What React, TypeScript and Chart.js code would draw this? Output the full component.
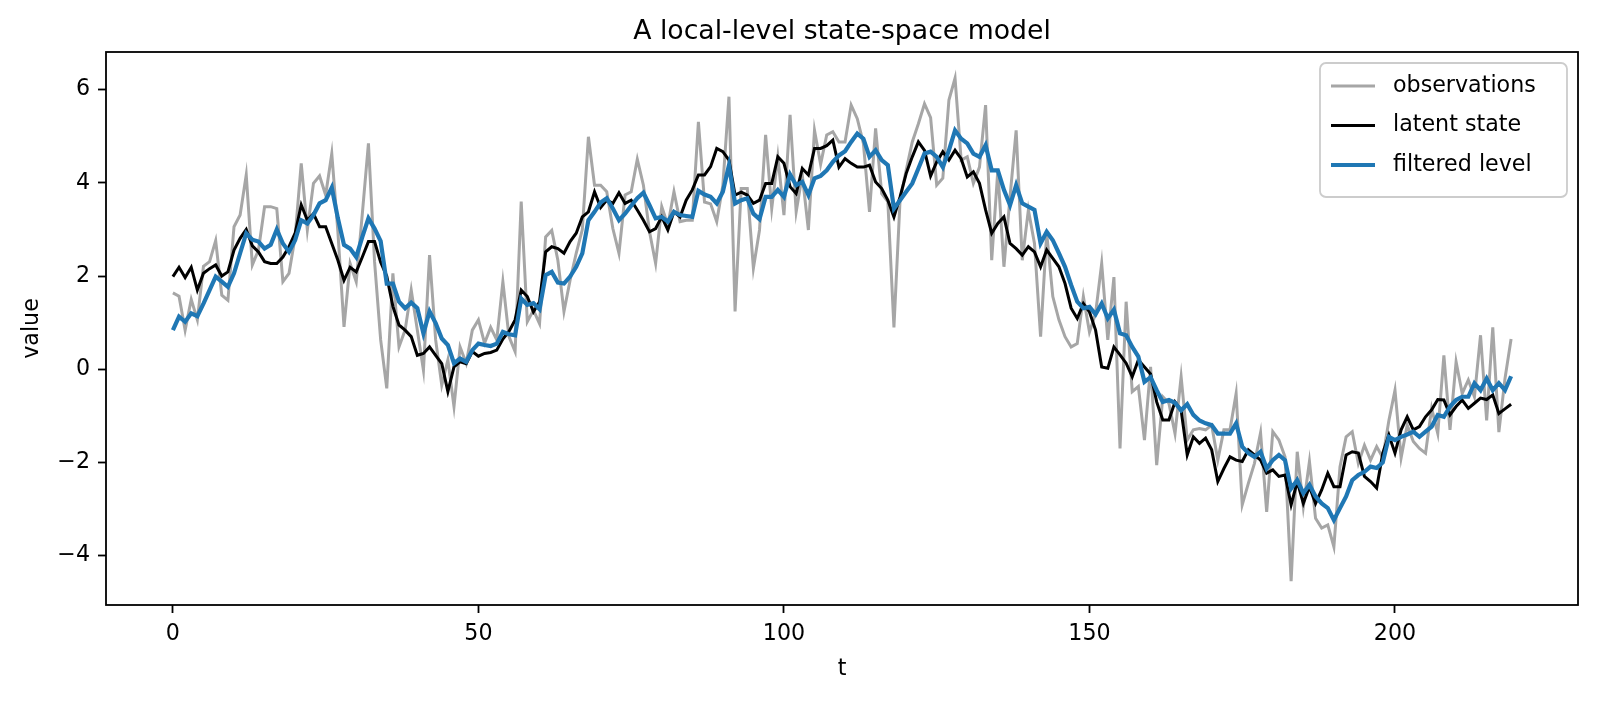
import React, { useEffect, useRef } from 'react';
import Chart from 'chart.js/auto';

const TITLE = 'A local-level state-space model';
const X_LABEL = 't';
const Y_LABEL = 'value';
const SERIES_NAMES = ['observations', 'latent state', 'filtered level'];
const X_TICKS = [0, 50, 100, 150, 200];
const Y_TICKS = [-4, -2, 0, 2, 4, 6];

// noisy observations (grey)
const OBSERVATIONS = [
  1.64, 1.57, 0.84, 1.5, 1.06, 2.21, 2.31, 2.76, 1.59, 1.48,
  3.06, 3.31, 4.17, 2.24, 2.56, 3.49, 3.49, 3.45, 1.88, 2.06,
  2.84, 4.42, 2.99, 3.99, 4.15, 3.74, 4.63, 2.95, 0.91, 2.27,
  1.88, 3.34, 4.85, 2.31, 0.63, -0.41, 2.06, 0.48, 0.84, 1.7,
  0.84, -0.02, 2.45, 0.63, -0.34, 0.2, -0.8, 0.48, 0.13, 0.84,
  1.06, 0.56, 0.9, 0.63, 1.88, 0.7, 0.38, 3.6, 1.02, 1.27,
  0.98, 2.84, 2.98, 2.34, 1.24, 1.91, 2.49, 3.0, 4.99, 3.95,
  3.95, 3.81, 3.02, 2.49, 3.74, 3.81, 4.51, 3.95, 2.95, 2.27,
  3.49, 3.09, 3.81, 3.17, 3.2, 3.2, 5.31, 3.59, 3.55, 3.17,
  3.95, 5.85, 1.24, 3.88, 3.88, 2.17, 2.99, 5.03, 3.45, 4.56,
  3.31, 5.46, 3.38, 4.17, 2.99, 5.13, 4.4, 5.03, 5.1, 4.88,
  4.88, 5.67, 5.38, 4.85, 3.38, 5.17, 3.77, 3.6, 0.9, 3.63,
  4.27, 4.88, 5.27, 5.7, 5.4, 3.95, 4.1, 5.78, 6.25, 4.49,
  4.56, 3.99, 4.34, 5.67, 2.34, 4.27, 2.2, 3.7, 5.13, 2.34,
  3.42, 2.7, 0.7, 2.92, 1.56, 1.06, 0.7, 0.48, 0.55, 1.56,
  0.8, 1.2, 2.27, 0.63, 1.98, -1.7, 1.45, -0.48, -0.37, -1.52,
  0.05, -2.06, -0.59, -0.73, -1.38, -0.16, -1.52, -1.3, -1.27, -1.3,
  -1.2, -1.95, -1.3, -1.3, -0.52, -2.91, -2.45, -2.02, -1.36, -3.06,
  -1.34, -1.52, -1.88, -4.55, -1.77, -2.95, -1.98, -3.2, -3.41, -3.34,
  -3.81, -2.09, -1.45, -1.34, -2.02, -1.63, -1.95, -1.66, -1.9, -1.1,
  -0.45, -1.9, -1.2, -1.55, -1.7, -1.8, -0.84, -1.38, 0.3, -1.3,
  0.16, -0.52, -0.23, -0.59, 0.73, -1.1, 0.9, -1.35, -0.2, 0.65,
];

// true latent state (black)
const LATENT = [
  1.99, 2.19, 1.97, 2.19, 1.7, 2.06, 2.16, 2.24, 2.0, 2.09,
  2.56, 2.81, 3.0, 2.65, 2.52, 2.31, 2.27, 2.27, 2.41, 2.63,
  2.92, 3.53, 3.2, 3.34, 3.06, 3.06, 2.7, 2.34, 1.91, 2.19,
  2.09, 2.41, 2.74, 2.74, 2.3, 2.0, 1.35, 0.95, 0.84, 0.7,
  0.3, 0.34, 0.48, 0.3, 0.12, -0.48, 0.05, 0.16, 0.12, 0.38,
  0.28, 0.34, 0.36, 0.41, 0.65, 0.81, 1.06, 1.7, 1.56, 1.23,
  1.45, 2.52, 2.63, 2.59, 2.49, 2.74, 2.92, 3.27, 3.38, 3.81,
  3.47, 3.63, 3.56, 3.79, 3.56, 3.63, 3.42, 3.2, 2.95, 3.02,
  3.27, 2.99, 3.38, 3.27, 3.63, 3.85, 4.17, 4.17, 4.35, 4.74,
  4.67, 4.49, 3.74, 3.8, 3.74, 3.56, 3.63, 3.99, 3.99, 4.56,
  4.42, 3.92, 3.77, 4.31, 4.17, 4.74, 4.74, 4.8, 4.92, 4.34,
  4.52, 4.42, 4.34, 4.34, 4.38, 4.02, 3.88, 3.63, 3.27, 3.7,
  4.2, 4.56, 4.88, 4.7, 4.15, 4.45, 4.67, 4.49, 4.7, 4.52,
  4.13, 4.24, 3.99, 3.42, 2.92, 3.13, 3.27, 2.7, 2.59, 2.45,
  2.63, 2.52, 2.2, 2.56, 2.38, 2.2, 1.84, 1.31, 1.09, 1.41,
  1.23, 0.84, 0.05, 0.02, 0.48, 0.31, 0.13, -0.16, 0.2, 0.05,
  -0.1, -0.7, -1.09, -1.09, -0.7, -0.88, -1.84, -1.45, -1.59, -1.48,
  -1.73, -2.41, -2.13, -1.88, -1.95, -1.98, -1.73, -1.84, -1.95, -2.23,
  -2.16, -2.3, -2.27, -2.91, -2.41, -2.88, -2.52, -2.88, -2.59, -2.23,
  -2.52, -2.52, -1.84, -1.77, -1.8, -2.3, -2.41, -2.55, -1.8, -1.41,
  -1.8, -1.3, -1.02, -1.3, -1.23, -1.02, -0.87, -0.65, -0.66, -0.98,
  -0.8, -0.66, -0.84, -0.73, -0.62, -0.65, -0.55, -0.95, -0.85, -0.75,
];

// filtered level (blue)
const FILTERED = [
  0.84, 1.13, 1.02, 1.2, 1.14, 1.41, 1.7, 1.99, 1.88, 1.77,
  2.06, 2.49, 2.92, 2.78, 2.74, 2.59, 2.67, 3.0, 2.7, 2.52,
  2.77, 3.2, 3.13, 3.31, 3.56, 3.63, 3.9, 3.24, 2.67, 2.59,
  2.41, 2.84, 3.24, 3.02, 2.75, 1.84, 1.84, 1.45, 1.31, 1.43,
  1.31, 0.77, 1.24, 0.99, 0.66, 0.52, 0.13, 0.23, 0.16, 0.41,
  0.55, 0.52, 0.5, 0.55, 0.8, 0.75, 0.73, 1.52, 1.38, 1.42,
  1.29, 2.02, 2.09, 1.86, 1.84, 1.99, 2.2, 2.49, 3.2, 3.38,
  3.58, 3.67, 3.45, 3.2, 3.34, 3.51, 3.67, 3.79, 3.52, 3.24,
  3.27, 3.17, 3.38, 3.31, 3.29, 3.27, 3.83, 3.75, 3.7, 3.56,
  3.81, 4.38, 3.56, 3.63, 3.67, 3.34, 3.22, 3.7, 3.7, 3.85,
  3.7, 4.18, 3.95, 4.02, 3.74, 4.1, 4.15, 4.27, 4.45, 4.59,
  4.68, 4.88, 5.06, 4.95, 4.56, 4.7, 4.49, 4.38, 3.45, 3.63,
  3.81, 3.99, 4.31, 4.63, 4.67, 4.56, 4.34, 4.7, 5.13, 4.95,
  4.85, 4.63, 4.56, 4.81, 4.27, 4.27, 3.85, 3.52, 3.95, 3.56,
  3.49, 3.42, 2.7, 2.95, 2.77, 2.49, 2.2, 1.81, 1.45, 1.31,
  1.34, 1.18, 1.41, 1.09, 1.28, 0.77, 0.73, 0.48, 0.27, -0.27,
  -0.17, -0.45, -0.7, -0.66, -0.72, -0.88, -0.75, -0.98, -1.1, -1.16,
  -1.2, -1.38, -1.38, -1.38, -1.16, -1.66, -1.8, -1.88, -1.77, -2.13,
  -1.95, -1.84, -1.95, -2.56, -2.38, -2.66, -2.48, -2.73, -2.88, -2.98,
  -3.24, -2.98, -2.73, -2.38, -2.27, -2.2, -2.09, -2.12, -2.0, -1.45,
  -1.52, -1.45, -1.4, -1.34, -1.45, -1.34, -1.23, -0.98, -1.02, -0.8,
  -0.66, -0.59, -0.59, -0.3, -0.45, -0.2, -0.45, -0.3, -0.45, -0.15,
];

const T = OBSERVATIONS.map((_, i) => i);

const FONT = '"DejaVu Sans", sans-serif';
const GREY = '#a6a6a6';
const BLACK = '#000000';
const BLUE = '#1f77b4';
const COLORS = [GREY, BLACK, BLUE];
const WIDTHS = [3.0, 3.0, 4.2];

const W = 1600;
const H = 701;

const minus = (v: number) => (v < 0 ? '\u2212' + Math.abs(v) : String(v));

// frame, titles and the boxed legend in the upper right
const decor = {
  id: 'decor',
  afterDraw(chart: any) {
    const { ctx, chartArea: a } = chart;
    const cx = (a.left + a.right) / 2;
    ctx.save();

    ctx.strokeStyle = '#000';
    ctx.lineWidth = 1.8;
    ctx.strokeRect(a.left, a.top, a.right - a.left, a.bottom - a.top);

    ctx.fillStyle = '#000';
    ctx.textAlign = 'center';
    ctx.font = `26.7px ${FONT}`;
    ctx.textBaseline = 'alphabetic';
    ctx.fillText(TITLE, cx, a.top - 13.5);

    ctx.font = `22.2px ${FONT}`;
    ctx.textBaseline = 'middle';
    ctx.fillText(X_LABEL, cx, 669);

    ctx.save();
    ctx.translate(32, (a.top + a.bottom) / 2);
    ctx.rotate(-Math.PI / 2);
    ctx.fillText(Y_LABEL, 0, 0);
    ctx.restore();

    // legend
    const lx = 1320, ly = 63, lw = a.right - 11 - 1320, lh = 134;
    ctx.beginPath();
    ctx.roundRect(lx, ly, lw, lh, 6);
    ctx.fillStyle = 'rgba(255,255,255,0.8)';
    ctx.fill();
    ctx.strokeStyle = '#cccccc';
    ctx.lineWidth = 1.8;
    ctx.stroke();

    ctx.textAlign = 'left';
    ctx.textBaseline = 'middle';
    SERIES_NAMES.forEach((name, i) => {
      const y = ly + 23 + i * 39.5;
      ctx.beginPath();
      ctx.moveTo(lx + 11, y);
      ctx.lineTo(lx + 55, y);
      ctx.strokeStyle = COLORS[i];
      ctx.lineWidth = WIDTHS[i];
      ctx.stroke();
      ctx.fillStyle = '#000';
      ctx.fillText(name, lx + 73, y);
    });

    ctx.restore();
  },
};

const axisGrid = {
  drawOnChartArea: false,
  drawTicks: true,
  tickLength: 8,
  tickWidth: 1.8,
  tickColor: '#000',
};

export default function App() {
  const ref = useRef<HTMLCanvasElement>(null);

  useEffect(() => {
    document.body.style.margin = '0';
    if (!ref.current) return;

    const series = [OBSERVATIONS, LATENT, FILTERED];
    const datasets = series.map((vals, k) => ({
      label: SERIES_NAMES[k],
      data: T.map((t, i) => ({ x: t, y: vals[i] })),
      borderColor: COLORS[k],
      backgroundColor: COLORS[k],
      borderWidth: WIDTHS[k],
      pointRadius: 0,
      tension: 0,
      fill: false,
      order: 3 - k,
    }));

    const chart = new Chart(ref.current, {
      type: 'line',
      data: { datasets },
      options: {
        animation: false,
        responsive: false,
        events: [],
        layout: { padding: { top: 52, right: 22, bottom: 0, left: 0 } },
        plugins: {
          legend: { display: false },
          title: { display: false },
          tooltip: { enabled: false },
        },
        scales: {
          x: {
            type: 'linear',
            min: -10.95,
            max: 229.95,
            afterBuildTicks: (s: any) => { s.ticks = X_TICKS.map((v) => ({ value: v })); },
            afterFit: (s: any) => { s.height = H - 605; },
            grid: axisGrid,
            border: { display: false },
            ticks: {
              font: { family: FONT, size: 22.2 },
              color: '#000',
              padding: 8,
              maxRotation: 0,
              autoSkip: false,
              callback: (v: any) => minus(Number(v)),
            },
          },
          y: {
            type: 'linear',
            min: -5.06,
            max: 6.81,
            afterBuildTicks: (s: any) => { s.ticks = Y_TICKS.map((v) => ({ value: v })); },
            afterFit: (s: any) => { s.width = 106; },
            grid: axisGrid,
            border: { display: false },
            ticks: {
              font: { family: FONT, size: 22.2 },
              color: '#000',
              padding: 8,
              autoSkip: false,
              callback: (v: any) => minus(Number(v)),
            },
          },
        },
      },
      plugins: [decor],
    });

    return () => chart.destroy();
  }, []);

  return (
    <canvas
      ref={ref}
      width={W}
      height={H}
      style={{ display: 'block', width: W, height: H, background: '#fff' }}
    />
  );
}
